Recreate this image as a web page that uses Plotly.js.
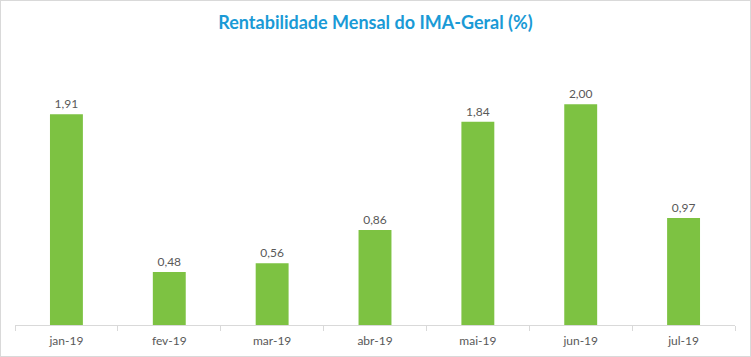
<!DOCTYPE html>
<html>
<head>
<meta charset="utf-8">
<script src="https://cdn.plot.ly/plotly-3.0.1.min.js"></script>
<style>
html,body{margin:0;padding:0;background:#fff;}
#wrap{width:751px;height:357px;box-sizing:border-box;border:1px solid #D9D9D9;}
#chart{width:749px;height:355px;}
</style>
</head>
<body>
<div id="wrap"><div id="chart"></div></div>
<script>
const categories = ["jan-19","fev-19","mar-19","abr-19","mai-19","jun-19","jul-19"];
const values = [1.91, 0.48, 0.56, 0.86, 1.84, 2.00, 0.97];
const labels = ["1,91","0,48","0,56","0,86","1,84","2,00","0,97"];

const trace = {
  type: "bar",
  x: categories,
  y: values,
  text: labels,
  textposition: "outside",
  cliponaxis: false,
  textfont: {family: "Lato, 'Open Sans', sans-serif", size: 12, color: "#595959"},
  marker: {color: "#7DC242"},
  hoverinfo: "none"
};

const layout = {
  width: 749, height: 355,
  margin: {l: 14, r: 15, t: 48, b: 31, pad: 0},
  paper_bgcolor: "#fff", plot_bgcolor: "#fff",
  bargap: 0.68,
  showlegend: false,
  title: {
    text: "<b>Rentabilidade Mensal do IMA-Geral (%)</b>",
    font: {family: "Lato, 'Open Sans', sans-serif", size: 18, color: "#1A9AD6"},
    x: 0.5, xanchor: "center", y: 0.94, yanchor: "middle", yref: "container"
  },
  xaxis: {
    type: "category",
    showline: true, linecolor: "#D9D9D9", linewidth: 1,
    ticks: "outside", tickson: "boundaries", ticklen: 5, tickcolor: "#D9D9D9",
    ticklabelstandoff: 5,
    tickfont: {family: "Lato, 'Open Sans', sans-serif", size: 12, color: "#595959"},
    showgrid: false, zeroline: false, fixedrange: true
  },
  yaxis: {
    range: [0, 2.5],
    visible: false, showgrid: false, zeroline: false, fixedrange: true
  }
};

Plotly.newPlot("chart", [trace], layout, {displayModeBar: false, staticPlot: true});
</script>
</body>
</html>
